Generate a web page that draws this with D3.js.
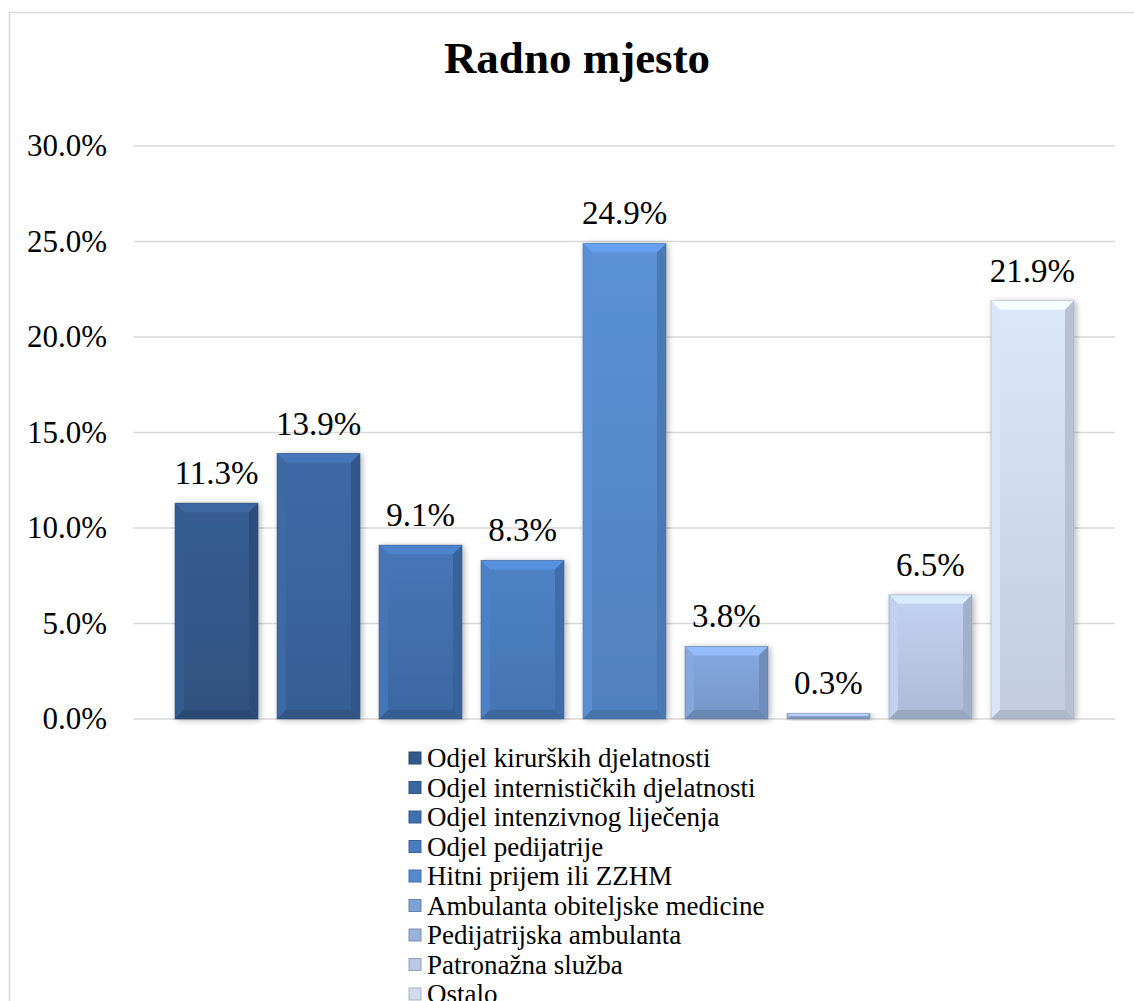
<!DOCTYPE html>
<html>
<head>
<meta charset="utf-8">
<script src="https://cdn.jsdelivr.net/npm/d3@7/dist/d3.min.js"></script>
<style>
  html, body { margin: 0; padding: 0; background: #fff; }
  svg { display: block; }
</style>
</head>
<body>
<svg width="1134" height="1001"></svg>
<script>
const categories = [
  "Odjel kirurških djelatnosti",
  "Odjel internističkih djelatnosti",
  "Odjel intenzivnog liječenja",
  "Odjel pedijatrije",
  "Hitni prijem ili ZZHM",
  "Ambulanta obiteljske medicine",
  "Pedijatrijska ambulanta",
  "Patronažna služba",
  "Ostalo"
];
const values = [0.113, 0.139, 0.091, 0.083, 0.249, 0.038, 0.003, 0.065, 0.219];
const yTicks = [0, 0.05, 0.10, 0.15, 0.20, 0.25, 0.30];
const colors = ["#34588a", "#3a659e", "#4170ae", "#4a7cbd", "#5689cc", "#7ea0d5", "#9ab2db", "#b8c8e5", "#d0dbee"];

const svg = d3.select("svg");
const serif = "'Liberation Serif', 'DejaVu Serif', serif";

// chart frame
svg.append("rect")
  .attr("x", 9.5).attr("y", 12.5)
  .attr("width", 1200).attr("height", 1100)
  .attr("fill", "#fff")
  .attr("stroke", "#d9d9d9")
  .attr("stroke-width", 1.5);

svg.append("text")
  .attr("x", 577).attr("y", 73)
  .attr("text-anchor", "middle")
  .style("font-family", serif)
  .style("font-weight", "bold")
  .style("font-size", "45px")
  .text("Radno mjesto");

const y = d3.scaleLinear().domain([0, 0.30]).range([719, 146]);
const x = d3.scaleBand().domain(categories).range([134, 1115])
  .paddingInner(0.186).paddingOuter(0.402);

// gridlines
svg.append("g")
  .selectAll("line")
  .data(yTicks)
  .join("line")
    .attr("x1", 134).attr("x2", 1115)
    .attr("y1", d => y(d)).attr("y2", d => y(d))
    .attr("stroke", "#d9d9d9")
    .attr("stroke-width", 1.5);

const yAxis = svg.append("g")
  .attr("transform", "translate(134,0)")
  .call(d3.axisLeft(y).tickValues(yTicks).tickFormat(d3.format(".1%")).tickSize(0).tickPadding(27));
yAxis.select(".domain").remove();
yAxis.selectAll("text")
  .style("font-family", serif)
  .style("font-size", "31px")
  .attr("fill", "#000");

// defs: gradients + shadow
const defs = svg.append("defs");
const shadow = defs.append("filter").attr("id", "shadow")
  .attr("x", "-20%").attr("y", "-20%").attr("width", "150%").attr("height", "150%");
shadow.append("feGaussianBlur").attr("in", "SourceAlpha").attr("stdDeviation", 3);
shadow.append("feOffset").attr("dx", 2).attr("dy", 1).attr("result", "b");
shadow.append("feComponentTransfer").append("feFuncA").attr("type", "linear").attr("slope", 0.3);
const merge = shadow.append("feMerge");
merge.append("feMergeNode");
merge.append("feMergeNode").attr("in", "SourceGraphic");

colors.forEach((c, i) => {
  const g = defs.append("linearGradient").attr("id", "grad" + i)
    .attr("x1", 0).attr("y1", 0).attr("x2", 0).attr("y2", 1);
  g.append("stop").attr("offset", 0).attr("stop-color", d3.color(c).brighter(0.15));
  g.append("stop").attr("offset", 1).attr("stop-color", d3.color(c).darker(0.2));
});

const bev = 9;
const bars = svg.append("g")
  .selectAll("g")
  .data(values)
  .join("g")
    .attr("filter", "url(#shadow)");

bars.each(function (v, i) {
  const g = d3.select(this);
  const x0 = x(categories[i]), w = x.bandwidth();
  const top = y(v), bot = y(0), h = bot - top;
  const b = Math.min(bev, h / 2);
  const c = d3.color(colors[i]);
  g.append("rect")
    .attr("x", x0).attr("y", top).attr("width", w).attr("height", h)
    .attr("fill", `url(#grad${i})`);
  // bevel: top, left, right, bottom
  g.append("path")
    .attr("d", `M${x0},${top}L${x0 + w},${top}L${x0 + w - b},${top + b}L${x0 + b},${top + b}Z`)
    .attr("fill", c.brighter(0.45));
  g.append("path")
    .attr("d", `M${x0},${top}L${x0 + b},${top + b}L${x0 + b},${bot - b}L${x0},${bot}Z`)
    .attr("fill", c.brighter(0.12));
  g.append("path")
    .attr("d", `M${x0 + w},${top}L${x0 + w - b},${top + b}L${x0 + w - b},${bot - b}L${x0 + w},${bot}Z`)
    .attr("fill", c.darker(0.35));
  g.append("path")
    .attr("d", `M${x0},${bot}L${x0 + b},${bot - b}L${x0 + w - b},${bot - b}L${x0 + w},${bot}Z`)
    .attr("fill", c.darker(0.5));
  g.append("rect")
    .attr("x", x0).attr("y", top).attr("width", w).attr("height", h)
    .attr("fill", "none")
    .attr("stroke", c.darker(0.8))
    .attr("stroke-opacity", 0.5)
    .attr("stroke-width", 1);
});

// data labels
svg.append("g")
  .selectAll("text")
  .data(values)
  .join("text")
    .attr("x", (d, i) => x(categories[i]) + x.bandwidth() / 2)
    .attr("y", d => y(d) - 19)
    .attr("text-anchor", "middle")
    .style("font-family", serif)
    .style("font-size", "33px")
    .text(d => d3.format(".1%")(d));

// legend
const legend = svg.append("g")
  .selectAll("g")
  .data(categories)
  .join("g")
    .attr("transform", (d, i) => `translate(409,${758 + i * 29.5})`);
legend.append("rect")
  .attr("x", 0).attr("y", -6).attr("width", 12).attr("height", 12)
  .attr("fill", (d, i) => colors[i])
  .attr("stroke", (d, i) => d3.color(colors[i]).darker(0.6))
  .attr("stroke-width", 1);
legend.append("text")
  .attr("x", 18).attr("y", 9)
  .style("font-family", serif)
  .style("font-size", "27px")
  .text(d => d);
</script>
</body>
</html>
